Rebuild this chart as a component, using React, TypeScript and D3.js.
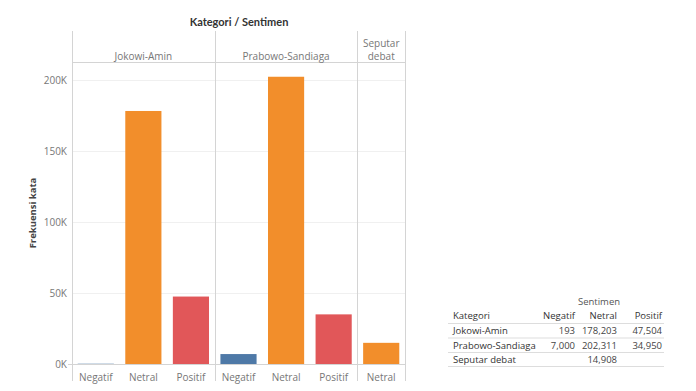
import { scaleBand, scaleLinear, format } from "d3";

const categories = ["Jokowi-Amin", "Prabowo-Sandiaga", "Seputar debat"];
const categoryHeader = [["Jokowi-Amin"], ["Prabowo-Sandiaga"], ["Seputar", "debat"]];
const sentiments = ["Negatif", "Netral", "Positif"];
const jokowiValues = [193, 178203, 47504];
const prabowoValues = [7000, 202311, 34950];
const seputarValues = [null, 14908, null];
const yTicks = [0, 50000, 100000, 150000, 200000];

const colors: Record<string, string> = {
    Negatif: "#4e79a7",
    Netral: "#f28e2b",
    Positif: "#e15759"
};

const font = "'Open Sans', sans-serif";
const titleFont = "Lato, sans-serif";

export default function App() {
    const seriesByCat = [jokowiValues, prabowoValues, seputarValues];
    const columns: { key: string; cat: string; sent: string; value: number }[] = [];
    categories.forEach((cat, ci) => {
        sentiments.forEach((sent, si) => {
            const v = seriesByCat[ci][si];
            if (v !== null) columns.push({ key: `${cat}|${sent}`, cat, sent, value: v });
        });
    });

    const left = 72, right = 405, top = 62, bottom = 364;
    const x = scaleBand<string>()
        .domain(columns.map(d => d.key))
        .range([left, right])
        .paddingInner(0.24)
        .paddingOuter(0.12);
    const y = scaleLinear().domain([0, 212700]).range([bottom, top]);
    const step = x.step();

    const panels = categories.map(cat => {
        const cols = columns.filter(c => c.cat === cat);
        const x0 = (x(cols[0].key) as number) - step * 0.12;
        return { cat, x0, x1: x0 + step * cols.length };
    });

    const kFmt = (v: number) => `${v / 1000}K`;
    const num = format(",");

    const tableLeft = 448, tableRight = 664;
    const colRight = [575, 617, 662];
    const rowY = [330, 345, 359];

    return (
        <svg
            width={696}
            height={391}
            style={{ position: "absolute", left: 0, top: 0, display: "block", fontFamily: font }}
        >
            <text x={239} y={26} textAnchor="middle" fontSize={11} fontWeight="bold" fill="#333" fontFamily={titleFont}>
                Kategori / Sentimen
            </text>
            {/* gridlines */}
            {yTicks.map(t => (
                <line key={t} x1={left} x2={right} y1={Math.round(y(t)) + 0.5} y2={Math.round(y(t)) + 0.5} stroke="#f0f0f0" />
            ))}
            <line x1={left} x2={right} y1={top + 0.5} y2={top + 0.5} stroke="#d4d4d4" />
            <line x1={left - 4} x2={right} y1={bottom + 0.5} y2={bottom + 0.5} stroke="#d4d4d4" />
            {panels.map((p, i) => (
                <g key={p.cat}>
                    {categoryHeader[i].map((ln, j) => (
                        <text
                            key={ln}
                            x={(p.x0 + p.x1) / 2}
                            y={categoryHeader[i].length === 1 ? 59.5 : 46.5 + j * 13}
                            textAnchor="middle"
                            fontSize={10}
                            fill="#777"
                        >
                            {ln}
                        </text>
                    ))}
                </g>
            ))}
            {[left, ...panels.map(p => p.x1)].map((xx, i) => (
                <line key={i} x1={Math.round(xx) + 0.5} x2={Math.round(xx) + 0.5} y1={31} y2={381} stroke="#d4d4d4" />
            ))}
            {/* bars */}
            {columns.map(c => (
                <rect
                    key={c.key}
                    x={x(c.key)}
                    width={x.bandwidth()}
                    y={y(c.value)}
                    height={y(0) - y(c.value)}
                    fill={colors[c.sent]}
                />
            ))}
            {/* x labels */}
            {columns.map(c => (
                <text
                    key={c.key}
                    x={(x(c.key) as number) + x.bandwidth() / 2}
                    y={380.5}
                    textAnchor="middle"
                    fontSize={10}
                    fill="#777"
                >
                    {c.sent}
                </text>
            ))}
            {/* y ticks */}
            {yTicks.map(t => (
                <text key={t} x={67} y={y(t) + 3.5} textAnchor="end" fontSize={10} fill="#777">
                    {kFmt(t)}
                </text>
            ))}
            <text
                transform={`translate(36, ${(top + bottom) / 2}) rotate(-90)`}
                textAnchor="middle"
                fontSize={9.5}
                fontWeight="bold"
                fill="#444"
            >
                Frekuensi kata
            </text>

            {/* table */}
            <text x={599} y={305} textAnchor="middle" fontSize={9.5} fill="#555">
                Sentimen
            </text>
            <text x={tableLeft + 5} y={319} fontSize={9.5} fill="#333">Kategori</text>
            {sentiments.map((s, i) => (
                <text key={s} x={colRight[i]} y={319} textAnchor="end" fontSize={9.5} fill="#333">
                    {s}
                </text>
            ))}
            {[323, 337.5, 352, 366].map((ly, i) => (
                <line key={i} x1={tableLeft} x2={tableRight} y1={ly + 0.5} y2={ly + 0.5} stroke="#dddddd" />
            ))}
            {categories.map((cat, ci) => (
                <g key={cat}>
                    <text x={tableLeft + 5} y={rowY[ci] + 3.5} fontSize={9.5} fill="#333">{cat}</text>
                    {seriesByCat[ci].map((v, si) =>
                        v === null ? null : (
                            <text key={si} x={colRight[si]} y={rowY[ci] + 3.5} textAnchor="end" fontSize={9.5} fill="#444">
                                {num(v)}
                            </text>
                        )
                    )}
                </g>
            ))}
        </svg>
    );
}
